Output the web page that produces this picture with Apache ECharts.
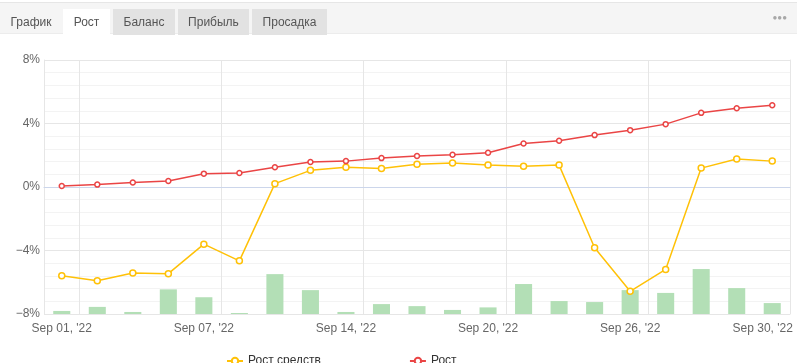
<!DOCTYPE html>
<html>
<head>
<meta charset="utf-8">
<script src="https://cdn.jsdelivr.net/npm/echarts@6/dist/echarts.min.js"></script>
<style>
body { margin: 0; background: #fff; font-family: "Liberation Sans", Arial, sans-serif; }
.wrap { position: relative; width: 797px; height: 363px; overflow: hidden; }
.tabs { position: absolute; left: 0; top: 2px; width: 797px; height: 32px; background: #f5f5f5; border-top: 1px solid #e6e6e6; border-bottom: 1px solid #ececec; box-sizing: border-box; }
.tab { position: absolute; top: 6px; height: 26px; line-height: 26px; font-size: 12px; color: #555; text-align: center; }
.tab_grey { background: #e2e2e2; }
.tab_on { background: #fff; }
.dots { position: absolute; right: 10px; top: 10px; font-size: 8px; color: #a8a8a8; letter-spacing: 0; }
#chart { position: absolute; left: 0; top: 0; width: 797px; height: 363px; }
</style>
</head>
<body>
<div class="wrap">
  <div id="chart"></div>
  <div class="tabs">
    <div class="tab" style="left:0;width:62px;">График</div>
    <div class="tab tab_on" style="left:63px;width:47px;">Рост</div>
    <div class="tab tab_grey" style="left:113px;width:62px;">Баланс</div>
    <div class="tab tab_grey" style="left:178px;width:71px;">Прибыль</div>
    <div class="tab tab_grey" style="left:252px;width:75px;">Просадка</div>
    <div class="dots">●●●</div>
  </div>
</div>
<script>
// даты (торговые дни)
var days = ['Sep 01, \'22', 'Sep 02, \'22', 'Sep 05, \'22', 'Sep 06, \'22', 'Sep 07, \'22',
  'Sep 08, \'22', 'Sep 09, \'22', 'Sep 12, \'22', 'Sep 14, \'22', 'Sep 15, \'22',
  'Sep 16, \'22', 'Sep 19, \'22', 'Sep 20, \'22', 'Sep 21, \'22', 'Sep 22, \'22',
  'Sep 23, \'22', 'Sep 26, \'22', 'Sep 27, \'22', 'Sep 28, \'22', 'Sep 29, \'22', 'Sep 30, \'22']
// Рост средств, %
var equityGrowth = [-5.59, -5.90, -5.42, -5.46, -3.60, -4.65, 0.21, 1.05, 1.24, 1.17,
  1.43, 1.51, 1.38, 1.30, 1.38, -3.83, -6.57, -5.19, 1.19, 1.76, 1.63]
// Рост, %
var growth = [0.06, 0.15, 0.28, 0.38, 0.84, 0.88, 1.24, 1.57, 1.63, 1.82,
  1.95, 2.03, 2.16, 2.74, 2.91, 3.27, 3.58, 3.96, 4.67, 4.96, 5.15]
// объём (столбики, отн. единицы)
var volume = [1.2, 2.8, 0.8, 9.7, 6.6, 0.4, 15.7, 9.4, 0.8, 3.9,
  3.1, 1.6, 2.6, 11.8, 5.1, 4.7, 9.4, 8.3, 17.7, 10.2, 4.3]

var font = '"Liberation Sans", Arial, sans-serif'
var myChart = echarts.init(document.getElementById('chart'))
myChart.setOption({
  animation: false,
  textStyle: { fontFamily: font },
  grid: { left: 44, right: 7, top: 60, bottom: 49, outerBoundsMode: 'none' },
  legend: {
    left: 221,
    bottom: -9,
    itemGap: 88,
    itemWidth: 16,
    itemHeight: 8,
    textStyle: { fontSize: 12, color: '#333', fontFamily: font },
    data: ['Рост средств', 'Рост']
  },
  xAxis: {
    type: 'category',
    data: days,
    boundaryGap: true,
    axisLine: { lineStyle: { color: '#ccd6eb' } },
    axisTick: { show: false },
    axisLabel: {
      interval: 3,
      color: '#666',
      fontSize: 12,
      margin: 9,
      formatter: function (v, idx) {
        // последняя подпись сдвинута влево, чтобы влезть в область
        return idx === days.length - 1 ? '{last|' + v + '}' : v
      },
      rich: { last: { color: '#666', fontSize: 12, padding: [0, 19, 0, 0] } }
    },
    splitLine: {
      show: true,
      interval: function (idx) { return idx % 4 === 1 },
      lineStyle: { color: '#e6e6e6' }
    }
  },
  yAxis: [
    {
      type: 'value',
      min: -8,
      max: 8,
      interval: 4,
      axisLine: { show: true, lineStyle: { color: '#e6e6e6' } },
      axisLabel: {
        color: '#666',
        fontSize: 12,
        margin: 4,
        formatter: function (v) { return (v < 0 ? '\u2212' + (-v) : v) + '%' }
      },
      splitLine: { lineStyle: { color: '#e6e6e6' } },
      minorTick: { show: false, splitNumber: 5 },
      minorSplitLine: { show: true, lineStyle: { color: '#f3f3f3' } }
    },
    {
      type: 'value',
      min: 0,
      max: 100,
      position: 'right',
      axisLine: { show: true, lineStyle: { color: '#e6e6e6' } },
      axisLabel: { show: false },
      axisTick: { show: false },
      splitLine: { show: false }
    }
  ],
  series: [
    {
      name: 'Объём',
      type: 'bar',
      yAxisIndex: 1,
      data: volume,
      barWidth: '48%',
      itemStyle: { color: '#b3dfb6' },
      z: 1
    },
    {
      name: 'Рост средств',
      type: 'line',
      data: equityGrowth,
      symbol: 'circle',
      symbolSize: 6,
      showAllSymbol: true,
      lineStyle: { color: '#ffc107', width: 1.5 },
      itemStyle: { color: '#fff', borderColor: '#ffc107', borderWidth: 1.5 },
      z: 3
    },
    {
      name: 'Рост',
      type: 'line',
      data: growth,
      symbol: 'circle',
      symbolSize: 5,
      showAllSymbol: true,
      lineStyle: { color: '#ea4545', width: 1.5 },
      itemStyle: { color: '#fff', borderColor: '#ea4545', borderWidth: 1.5 },
      z: 4
    }
  ]
})
</script>
</body>
</html>
